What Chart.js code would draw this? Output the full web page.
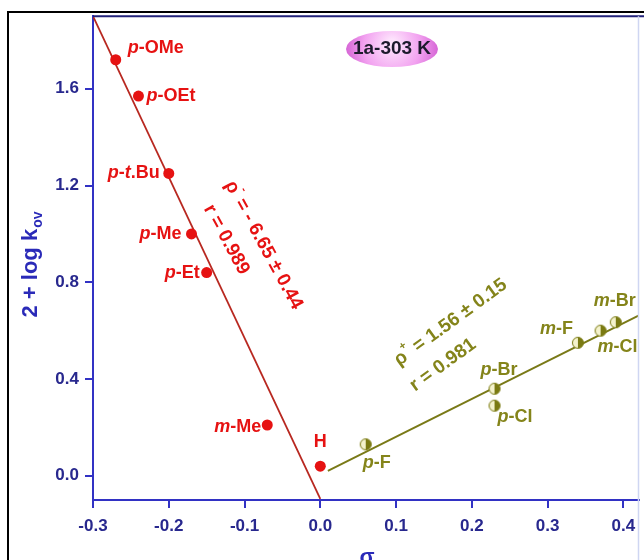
<!DOCTYPE html>
<html>
<head>
<meta charset="utf-8">
<script src="https://cdn.jsdelivr.net/npm/chart.js@4.4.0/dist/chart.umd.min.js"></script>
<style>
  body { margin: 0; background: #fff; }
  canvas { display: block; }
</style>
</head>
<body>
<canvas id="hammett" width="644" height="560"></canvas>
<script>
// electron donating substituents (red)
const donorSubs = ["p-OMe", "p-OEt", "p-t.Bu", "p-Me", "p-Et", "m-Me", "H"];
const donorSigma = [-0.27, -0.24, -0.2, -0.17, -0.15, -0.07, 0.0];
const donorLogK = [1.72, 1.57, 1.25, 1.0, 0.84, 0.21, 0.04];

// electron withdrawing substituents (olive)
const acceptorSubs = ["p-F", "p-Br", "p-Cl", "m-F", "m-Cl", "m-Br"];
const acceptorSigma = [0.06, 0.23, 0.23, 0.34, 0.37, 0.39];
const acceptorLogK = [0.13, 0.36, 0.29, 0.55, 0.6, 0.635];

// regression lines (end points)
const donorFitX = [-0.3, 0.0];
const donorFitY = [1.9, -0.095];
const acceptorFitX = [0.01, 0.42];
const acceptorFitY = [0.02, 0.662];

const xTicks = [-0.3, -0.2, -0.1, 0.0, 0.1, 0.2, 0.3, 0.4];
const yTicks = [0.0, 0.4, 0.8, 1.2, 1.6];

const BLUE = "#3232c4";
const TICKTXT = "#28288e";
const RED = "#e61212";
const OLIVE = "#84841a";
const FONT = "'Liberation Sans', Arial, sans-serif";

const toXY = (xs, ys) => xs.map((x, i) => ({ x: x, y: ys[i] }));

// half filled marker for the olive series
function halfDot(r) {
  const c = document.createElement("canvas");
  const s = r * 2 + 3;
  c.width = s;
  c.height = s;
  const g = c.getContext("2d");
  const m = s / 2;
  g.fillStyle = "#f4f2cc";
  g.beginPath();
  g.arc(m, m, r, 0, Math.PI * 2);
  g.fill();
  g.fillStyle = "#7a7a12";
  g.beginPath();
  g.arc(m, m, r, -Math.PI / 2, Math.PI / 2);
  g.closePath();
  g.fill();
  g.strokeStyle = "#7a7a12";
  g.lineWidth = 1;
  g.beginPath();
  g.arc(m, m, r, 0, Math.PI * 2);
  g.stroke();
  return c;
}

// where each point label sits relative to its point (pixels)
const labelPos = {
  "p-OMe": { dx: 12, dy: -12, align: "left" },
  "p-OEt": { dx: 8, dy: 0, align: "left" },
  "p-t.Bu": { dx: -9, dy: 0, align: "right" },
  "p-Me": { dx: -10, dy: 0, align: "right" },
  "p-Et": { dx: -7, dy: 0, align: "right" },
  "m-Me": { dx: -6, dy: 2, align: "right" },
  H: { dx: 0, dy: -24, align: "center" },
  "p-F": { dx: -3, dy: 19, align: "left" },
  "p-Br": { dx: -14, dy: -19, align: "left" },
  "p-Cl": { dx: 3, dy: 11, align: "left" },
  "m-F": { dx: -5, dy: -14, align: "right" },
  "m-Cl": { dx: -3, dy: 16, align: "left" },
  "m-Br": { dx: -22, dy: -21, align: "left" },
};

function segs(label) {
  return label
    .split(/([pmt](?=[-.]))/)
    .filter(Boolean)
    .map((s) => ({ t: s, i: /^[pmt]$/.test(s) }));
}

function drawLabel(ctx, label, x, y, align, color) {
  const parts = segs(label);
  let w = 0;
  parts.forEach((p) => {
    ctx.font = (p.i ? "italic " : "") + "bold 18px " + FONT;
    p.w = ctx.measureText(p.t).width;
    w += p.w;
  });
  let cx = align === "left" ? x : align === "right" ? x - w : x - w / 2;
  ctx.fillStyle = color;
  ctx.textAlign = "left";
  ctx.textBaseline = "middle";
  parts.forEach((p) => {
    ctx.font = (p.i ? "italic " : "") + "bold 18px " + FONT;
    ctx.fillText(p.t, cx, y);
    cx += p.w;
  });
}

// rho text with small superscript sign, rotated
function drawRho(ctx, x, y, angle, sign, rest, color) {
  ctx.save();
  ctx.translate(x, y);
  ctx.rotate(angle);
  ctx.fillStyle = color;
  ctx.textAlign = "left";
  ctx.textBaseline = "middle";
  ctx.font = "bold 19px " + FONT;
  ctx.fillText("\u03c1", 0, 0);
  let w = ctx.measureText("\u03c1").width;
  ctx.font = "bold 11px " + FONT;
  ctx.fillText(sign, w, -9);
  w += ctx.measureText(sign).width;
  ctx.font = "bold 19px " + FONT;
  ctx.fillText(rest, w, 0);
  ctx.restore();
}

function drawRotated(ctx, x, y, angle, text, color) {
  ctx.save();
  ctx.translate(x, y);
  ctx.rotate(angle);
  ctx.fillStyle = color;
  ctx.textAlign = "left";
  ctx.textBaseline = "middle";
  ctx.font = "bold 19px " + FONT;
  ctx.fillText(text, 0, 0);
  ctx.restore();
}

const decorations = {
  id: "decorations",
  afterDatasetsDraw(chart) {
    const ctx = chart.ctx;
    const xs = chart.scales.x;
    const ys = chart.scales.y;
    const area = chart.chartArea;
    const px = (v) => xs.getPixelForValue(v);
    const py = (v) => ys.getPixelForValue(v);

    // point labels
    donorSubs.forEach((s, i) => {
      const p = labelPos[s];
      drawLabel(ctx, s, px(donorSigma[i]) + p.dx, py(donorLogK[i]) + p.dy, p.align, RED);
    });
    acceptorSubs.forEach((s, i) => {
      const p = labelPos[s];
      drawLabel(ctx, s, px(acceptorSigma[i]) + p.dx, py(acceptorLogK[i]) + p.dy, p.align, OLIVE);
    });

    // regression statistics
    const redAng = (61.5 * Math.PI) / 180;
    drawRho(ctx, px(-0.12), py(1.215), redAng, "-", " = - 6.65 \u00b1 0.44", RED);
    drawRotated(ctx, px(-0.148), py(1.115), redAng, "r = 0.989", RED);
    const olAng = (-36 * Math.PI) / 180;
    drawRho(ctx, px(0.1), py(0.47), olAng, "+", " = 1.56 \u00b1 0.15", OLIVE);
    drawRotated(ctx, px(0.121), py(0.365), olAng, "r = 0.981", OLIVE);

    // 1a-303 K badge
    const bx = 392, by = 49;
    ctx.save();
    const grad = ctx.createRadialGradient(bx, by - 6, 4, bx, by, 48);
    grad.addColorStop(0, "#fde2fc");
    grad.addColorStop(0.55, "#f2a2f0");
    grad.addColorStop(1, "#d35fd3");
    ctx.fillStyle = grad;
    ctx.beginPath();
    ctx.ellipse(bx, by, 46, 18, 0, 0, Math.PI * 2);
    ctx.fill();
    ctx.fillStyle = "#1c1a2c";
    ctx.font = "bold 19px " + FONT;
    ctx.textAlign = "center";
    ctx.textBaseline = "middle";
    ctx.fillText("1a-303 K", bx, by);
    ctx.restore();

    // plot box top / right
    ctx.save();
    ctx.strokeStyle = "#22227a";
    ctx.lineWidth = 2;
    ctx.beginPath();
    ctx.moveTo(area.left, area.top);
    ctx.lineTo(644, area.top);
    ctx.stroke();
    ctx.strokeStyle = "#cfd6f2";
    ctx.lineWidth = 1.5;
    ctx.beginPath();
    ctx.moveTo(area.right, area.top);
    ctx.lineTo(area.right, 560);
    ctx.stroke();

    // outer frame
    ctx.strokeStyle = "#000";
    ctx.lineWidth = 2;
    ctx.beginPath();
    ctx.moveTo(8, 560);
    ctx.lineTo(8, 12);
    ctx.lineTo(644, 12);
    ctx.stroke();

    // axis titles
    ctx.fillStyle = "#2a2ab8";
    ctx.translate(31, 265);
    ctx.rotate(-Math.PI / 2);
    ctx.textBaseline = "middle";
    ctx.textAlign = "left";
    ctx.font = "bold 22px " + FONT;
    const main = "2 + log k";
    const wMain = ctx.measureText(main).width;
    ctx.font = "bold 14px " + FONT;
    const wSub = ctx.measureText("ov").width;
    const start = -(wMain + wSub) / 2;
    ctx.font = "bold 22px " + FONT;
    ctx.fillText(main, start, 0);
    ctx.font = "bold 14px " + FONT;
    ctx.fillText("ov", start + wMain + 1, 7);
    ctx.restore();

    ctx.save();
    ctx.fillStyle = "#2a2ab8";
    ctx.font = "bold 22px " + FONT;
    ctx.textAlign = "center";
    ctx.textBaseline = "alphabetic";
    ctx.fillText("\u03c3", 367, 564);
    ctx.restore();
  },
};

new Chart(document.getElementById("hammett").getContext("2d"), {
  type: "scatter",
  data: {
    datasets: [
      {
        data: toXY(donorSigma, donorLogK),
        pointStyle: "circle",
        pointRadius: 5.5,
        backgroundColor: RED,
        borderColor: RED,
        borderWidth: 0,
        order: 0,
      },
      {
        data: toXY(acceptorSigma, acceptorLogK),
        pointStyle: halfDot(5.5),
        order: 0,
      },
      {
        type: "line",
        data: toXY(donorFitX, donorFitY),
        showLine: true,
        pointRadius: 0,
        borderColor: "#b82820",
        borderWidth: 1.8,
        order: 1,
      },
      {
        type: "line",
        data: toXY(acceptorFitX, acceptorFitY),
        showLine: true,
        pointRadius: 0,
        borderColor: "#7a7a18",
        borderWidth: 2,
        order: 1,
      },
    ],
  },
  options: {
    responsive: false,
    animation: false,
    devicePixelRatio: 1,
    layout: { padding: { top: 14, right: 3, left: 0, bottom: 0 } },
    plugins: { legend: { display: false }, tooltip: { enabled: false } },
    scales: {
      x: {
        type: "linear",
        min: -0.3,
        max: 0.42,
        afterBuildTicks: (s) => {
          s.ticks = xTicks.map((v) => ({ value: v }));
        },
        afterFit: (s) => {
          s.height = 60;
        },
        grid: { drawOnChartArea: false, drawTicks: true, tickLength: 8, color: BLUE, lineWidth: 2 },
        border: { color: BLUE, width: 2 },
        ticks: {
          color: TICKTXT,
          font: { family: FONT, size: 17, weight: "bold" },
          padding: 8,
          maxRotation: 0,
          autoSkip: false,
          callback: (v) => Number(v).toFixed(1),
        },
      },
      y: {
        type: "linear",
        min: -0.1,
        max: 1.9,
        afterBuildTicks: (s) => {
          s.ticks = yTicks.map((v) => ({ value: v }));
        },
        afterFit: (s) => {
          s.width = 93;
        },
        grid: { drawOnChartArea: false, drawTicks: true, tickLength: 8, color: BLUE, lineWidth: 2 },
        border: { color: BLUE, width: 2 },
        ticks: {
          color: TICKTXT,
          font: { family: FONT, size: 17, weight: "bold" },
          padding: 6,
          autoSkip: false,
          callback: (v) => Number(v).toFixed(1),
        },
      },
    },
  },
  plugins: [decorations],
});
</script>
</body>
</html>
